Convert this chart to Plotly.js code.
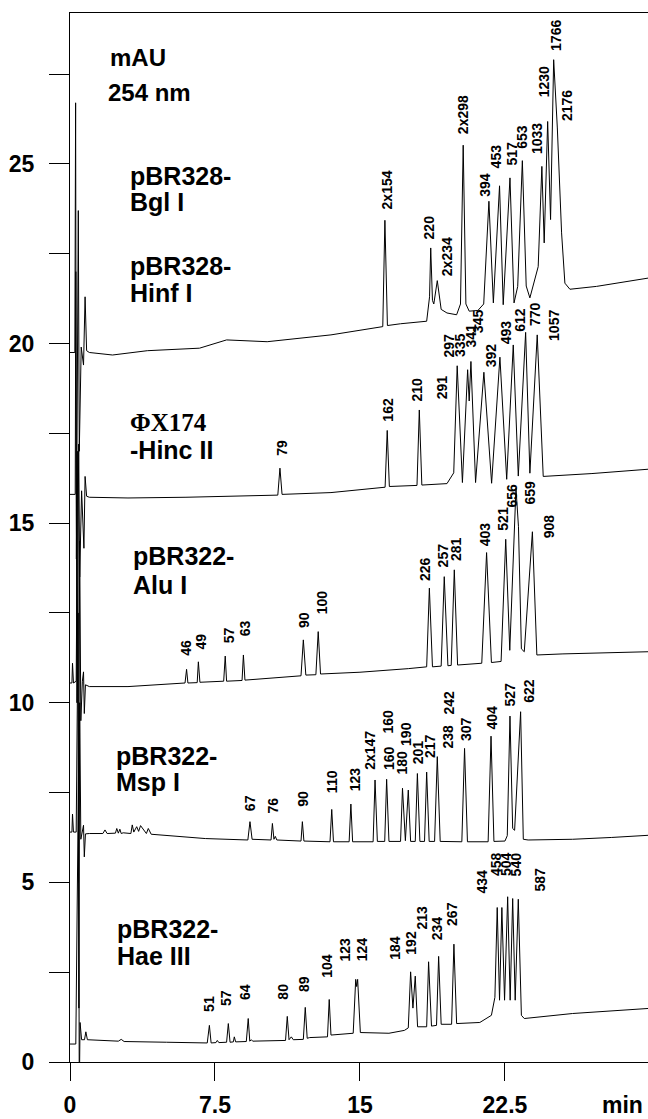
<!DOCTYPE html>
<html>
<head>
<meta charset="utf-8">
<script src="https://cdn.plot.ly/plotly-3.0.1.min.js"></script>
<style>
html,body{margin:0;padding:0;background:#fff;}
#chart{width:648px;height:1119px;}
</style>
</head>
<body>
<div id="chart"></div>
<script>
// ---------- DATA (time in min, signal in mAU, traces stacked with offsets as in the figure) ----------
// pBR328 (Bgl I / Hinf I)
const bglT = [0,0.25,0.29,0.33,0.43,0.48,0.58,0.7,0.78,0.86,1.0,2.2,4.0,6.7,8.1,10.2,13.5,15.9,
  16.18,16.29,16.42,17.1,18.45,18.6,18.66,18.75,18.82,19.0,19.2,19.5,20.0,20.2,20.34,20.48,20.65,21.1,21.4,
  21.67,21.9,22.22,22.41,22.76,22.97,23.16,23.4,23.6,23.79,24.22,24.41,24.53,24.71,24.86,25.02,25.21,25.43,25.6,25.86,27.24,29.9];
const bglY = [19.75,19.75,26.7,14.0,23.7,17.0,19.9,19.4,21.3,19.8,19.75,19.68,19.8,19.87,20.1,20.05,20.24,20.43,
  20.47,23.43,20.5,20.55,20.62,21.3,22.66,21.2,21.1,21.75,20.95,20.85,20.8,21.1,25.52,21.1,20.9,20.92,21.1,
  23.96,21.13,24.39,21.08,24.61,21.13,21.59,25.09,21.6,21.27,22.14,24.93,22.8,26.18,23.45,27.9,26.0,23.08,21.68,21.51,21.59,21.82];
const bglLabels = ['2x154','220','2x234','2x298','394','453','517','653','1033','1230','1766','2176'];
const bglLabT = [16.38,18.62,19.48,20.3,21.47,22.02,22.85,23.41,24.17,24.53,25.17,25.74];
const bglLabY = [23.68,22.84,21.82,25.77,24.03,24.81,24.89,25.35,25.21,26.79,28.09,26.14];

// PhiX174 - Hinc II
const hincT = [0,0.27,0.3,0.36,0.45,0.5,0.6,0.72,0.78,0.86,1.0,3.0,6.0,9.0,10.75,10.86,10.97,13.5,16.3,16.41,16.52,
  17.95,18.07,18.2,19.5,19.85,20.03,20.3,20.57,20.65,20.74,20.98,21.41,21.81,22.24,22.59,22.93,23.19,23.57,23.79,24.17,24.48,27.0,29.9];
const hincY = [15.8,15.8,22.0,10.0,17.2,13.5,15.9,14.3,16.3,15.75,15.72,15.7,15.72,15.75,15.78,16.53,15.8,15.85,16.0,17.58,16.02,
  16.05,18.15,16.06,16.1,16.4,19.38,16.13,19.27,18.4,19.5,16.13,19.2,16.11,19.62,16.22,19.96,16.31,20.31,16.39,20.24,16.3,16.38,16.5];
const hincLabels = ['79','162','210','291','297','335','341','345','392','493','612','770','1057'];
const hincLabT = [10.95,16.47,17.97,19.22,19.6,20.21,20.72,21.12,21.76,22.55,23.28,24.05,25.0];
const hincLabY = [16.81,17.78,18.34,18.38,19.55,19.56,19.82,20.24,19.27,19.92,20.27,20.43,20.01];

// pBR322 - Alu I
const aluT = [0,0.1,0.13,0.18,0.32,0.4,0.44,0.5,0.56,0.64,0.7,0.74,0.8,1.0,3.0,5.0,5.95,6.03,6.1,6.58,6.64,6.72,
  7.95,8.03,8.1,8.9,8.97,9.05,11.0,11.95,12.07,12.2,12.72,12.84,12.96,15.0,17.5,18.45,18.59,18.75,19.2,19.36,19.55,19.72,19.88,20.05,
  21.3,21.55,21.8,22.3,22.54,22.75,23.07,23.2,23.35,23.5,23.92,24.15,25.5,27.5,29.9];
const aluY = [10.55,10.55,11.1,10.55,10.6,17.0,5.0,14.5,9.5,10.6,10.86,9.7,10.5,10.45,10.45,10.52,10.55,10.93,10.55,10.56,11.14,10.57,
  10.6,11.3,10.6,10.62,11.33,10.63,10.7,10.75,11.75,10.77,10.78,11.98,10.8,10.85,10.95,11.0,13.19,11.0,11.02,13.51,11.03,11.04,13.7,11.05,
  11.1,14.18,11.12,11.15,14.55,11.46,15.97,14.9,11.5,11.42,14.76,11.33,11.36,11.38,11.42];
const aluLabels = ['46','49','57','63','90','100','226','257','281','403','521','656','659','908'];
const aluLabT = [6.03,6.76,8.24,9.1,12.1,13.02,18.36,19.31,20.0,21.47,22.41,22.85,23.79,24.79];
const aluLabY = [11.24,11.42,11.61,11.79,12.02,12.4,13.33,13.72,13.88,14.3,14.74,15.37,15.46,14.53];

// pBR322 - Msp I
const mspT = [0,0.1,0.13,0.18,0.32,0.42,0.46,0.5,0.56,0.66,0.7,0.74,0.8,1.0,1.7,1.81,1.92,2.35,2.42,2.5,2.58,2.65,2.75,
  3.15,3.22,3.3,3.45,3.55,3.65,3.95,4.05,4.2,5.0,7.0,9.2,9.31,9.42,10.4,10.47,10.55,10.62,10.7,11.95,12.02,12.1,
  13.45,13.54,13.63,14.44,14.53,14.62,15.68,15.78,15.9,16.28,16.38,16.5,17.1,17.2,17.35,17.5,17.62,17.86,17.97,18.1,
  18.34,18.45,18.58,18.86,19.0,19.15,20.27,20.41,20.56,21.63,21.78,21.93,22.5,22.62,22.76,22.9,23.0,23.31,23.45,23.7,26.0,28.0,29.9];
const mspY = [6.4,6.4,6.9,6.4,6.4,12.5,1.5,10.0,6.2,6.45,6.59,5.71,6.35,6.36,6.36,6.46,6.36,6.37,6.5,6.37,6.48,6.36,6.38,
  6.36,6.6,6.4,6.55,6.42,6.58,6.36,6.5,6.34,6.3,6.22,6.18,6.69,6.2,6.18,6.64,6.2,6.28,6.18,6.15,6.69,6.15,
  6.13,7.03,6.13,6.13,7.18,6.13,6.13,7.85,6.14,6.14,7.87,6.14,6.14,7.62,6.16,7.57,6.14,6.14,8.03,6.14,
  6.14,8.07,6.14,6.14,8.5,6.14,6.13,8.73,6.13,6.13,9.07,6.14,6.15,6.3,9.63,6.5,6.45,9.75,6.2,6.18,6.2,6.25,6.31];
const mspLabels = ['67','76','90','110','123','2x147','160','180','160','190','201','217','238','242','307','404','527','622'];
const mspLabT = [9.35,10.52,12.07,13.53,14.74,15.55,16.47,17.16,16.47,17.41,18.02,18.66,19.57,19.59,20.52,21.81,22.76,23.74];
const mspLabY = [6.92,6.87,7.06,7.43,7.48,8.08,8.08,7.94,9.1,8.73,8.24,8.4,8.68,9.61,8.87,9.19,9.84,9.94];

// pBR322 - Hae III
const haeT = [0,0.3,0.44,0.48,0.52,0.6,0.75,0.82,0.9,2.5,2.65,2.8,5.0,7.1,7.21,7.3,7.55,7.62,7.7,8.1,8.19,8.28,8.45,8.5,8.57,
  9.12,9.22,9.3,9.38,9.45,11.15,11.24,11.33,11.45,11.55,12.07,12.17,12.27,12.4,13.32,13.41,13.5,14.65,14.78,14.83,14.88,15.02,16.5,17.3,17.5,
  17.62,17.74,17.86,17.98,18.45,18.55,18.7,18.96,19.07,19.2,19.74,19.86,20.0,21.2,21.8,21.98,22.1,22.22,22.34,22.48,22.64,22.77,22.9,23.03,23.19,23.35,23.5,26.0,29.9];
const haeY = [0.5,0.5,8.0,-1.0,1.1,0.62,0.62,0.84,0.62,0.58,0.63,0.57,0.55,0.53,1.02,0.53,0.54,0.6,0.54,0.55,1.07,0.55,0.56,0.7,0.56,
  0.57,1.21,0.58,0.62,0.58,0.6,1.27,0.62,0.7,0.62,0.63,1.52,0.66,0.68,0.7,1.74,0.75,0.8,2.3,2.1,2.3,0.82,0.8,0.88,0.95,
  2.51,1.5,2.39,0.98,0.98,2.79,1.0,1.02,2.94,1.05,1.05,3.28,1.07,1.1,1.3,1.8,4.3,1.72,4.3,1.72,4.6,1.72,4.55,1.72,4.53,1.3,1.21,1.35,1.49];
const haeLabels = ['51','57','64','80','89','104','123','124','184','192','213','234','267','434','458','504','540','587'];
const haeLabT = [7.16,8.1,9.05,11.0,12.07,13.28,14.22,15.09,16.81,17.67,18.19,19.0,19.79,21.29,22.07,22.59,23.07,24.31];
const haeLabY = [1.35,1.49,1.67,1.67,1.9,2.28,2.74,2.74,2.79,2.92,3.62,3.34,3.72,4.62,5.11,5.11,5.11,4.69];

// Sample names
const sampleNames = ['pBR328-','Bgl I','pBR328-','Hinf I','ΦX174','-Hinc II','pBR322-','Alu I','pBR322-','Msp I','pBR322-','Hae III'];
const sampleT = [3.0,3.0,3.0,3.0,3.0,3.0,3.16,3.16,2.28,2.28,2.33,2.33];
const sampleY = [24.67,23.95,22.16,21.41,17.81,17.04,14.08,13.28,8.53,7.8,3.71,2.94];

const xTickVals = [0,7.5,15,22.5,30];
const xTickText = ['0','7.5','15','22.5','30'];
const yTickVals = [0,2.5,5,7.5,10,12.5,15,17.5,20,22.5,25,27.5];
const yTickText = ['0','','5','','10','','15','','20','','25',''];

// ---------- PLOT ----------
const FONT = 'Liberation Sans, Arial, sans-serif';
const lineStyle = {color:'#000', width:1};
function tr(x,y){return {x:x,y:y,type:'scatter',mode:'lines',line:lineStyle,hoverinfo:'skip',showlegend:false};}
const data = [tr(bglT,bglY), tr(hincT,hincY), tr(aluT,aluY), tr(mspT,mspY), tr(haeT,haeY)];

const annotations = [];
function addLabels(labels, ts, ys){
  labels.forEach((s,i)=>{
    annotations.push({x:ts[i], y:ys[i], xref:'x', yref:'y', text:'<b>'+s+'</b>', showarrow:false,
      textangle:-90, xanchor:'center', yanchor:'bottom', font:{family:FONT, size:14, color:'#000'}});
  });
}
addLabels(bglLabels,bglLabT,bglLabY);
addLabels(hincLabels,hincLabT,hincLabY);
addLabels(aluLabels,aluLabT,aluLabY);
addLabels(mspLabels,mspLabT,mspLabY);
addLabels(haeLabels,haeLabT,haeLabY);

sampleNames.forEach((s,i)=>{
  const serif = (s==='ΦX174');
  annotations.push({x:sampleT[i], y:sampleY[i], xref:'x', yref:'y', text:'<b>'+s+'</b>', showarrow:false,
    xanchor:'left', yanchor:'middle',
    font:{family: serif ? 'Liberation Serif, Times New Roman, serif' : FONT, size:25, color:'#000'}});
});
annotations.push({x:1.95, y:27.97, xref:'x', yref:'y', text:'<b>mAU</b>', showarrow:false, xanchor:'left', yanchor:'middle', font:{family:FONT,size:24,color:'#000'}});
annotations.push({x:1.85, y:26.99, xref:'x', yref:'y', text:'<b>254 nm</b>', showarrow:false, xanchor:'left', yanchor:'middle', font:{family:FONT,size:24,color:'#000'}});
annotations.push({x:28.6, y:-0.041, xref:'x', yref:'paper', text:'<b>min</b>', showarrow:false, xanchor:'center', yanchor:'middle', font:{family:FONT,size:23,color:'#000'}});

const layout = {
  width:648, height:1119,
  margin:{l:70, r:0, t:13, b:57, pad:0},
  paper_bgcolor:'#fff', plot_bgcolor:'#fff',
  showlegend:false,
  xaxis:{range:[0,29.9], tickvals:xTickVals, ticktext:xTickText, ticks:'outside', ticklen:18, tickwidth:1, tickcolor:'#000',
    showline:true, linecolor:'#000', linewidth:1, mirror:true, showgrid:false, zeroline:false,
    ticklabelstandoff:4,
    tickfont:{family:FONT, size:23, color:'#000', weight:'bold'}},
  yaxis:{range:[0,29.2], tickvals:yTickVals, ticktext:yTickText, ticks:'outside', ticklen:20, tickwidth:1, tickcolor:'#000',
    showline:true, linecolor:'#000', linewidth:1, mirror:false, showgrid:false, zeroline:false,
    ticklabelstandoff:10,
    tickfont:{family:FONT, size:23, color:'#000', weight:'bold'}},
  annotations:annotations
};
Plotly.newPlot('chart', data, layout, {staticPlot:true, displayModeBar:false});
</script>
</body>
</html>
